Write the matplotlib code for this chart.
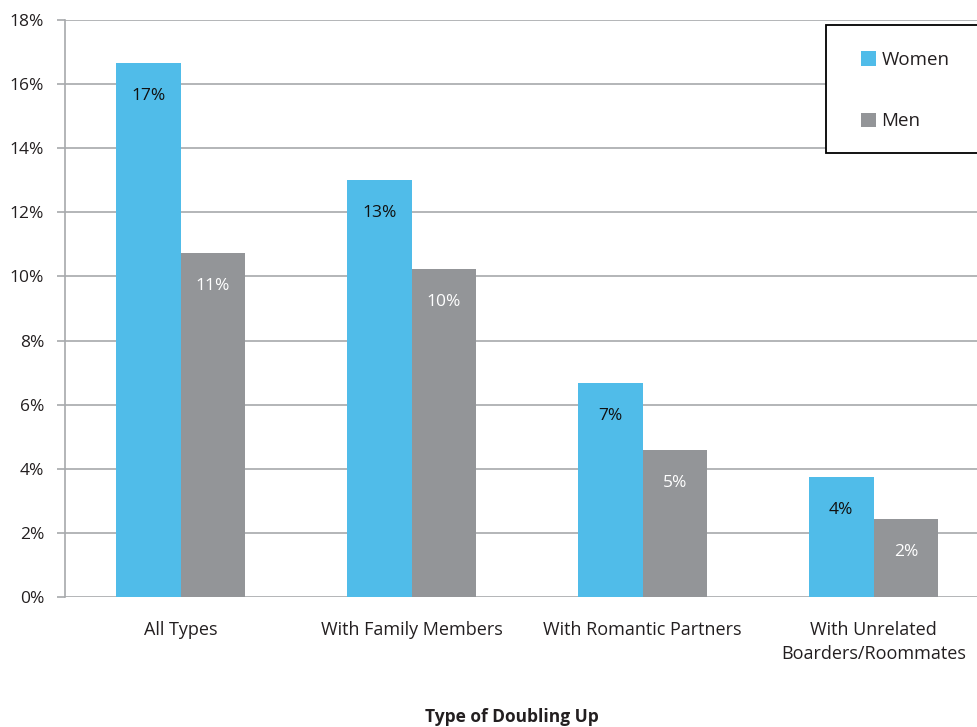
import numpy as np
import matplotlib.pyplot as plt
from matplotlib.ticker import FuncFormatter
from matplotlib.patches import Rectangle

plt.rcParams['font.family'] = ['Open Sans', 'DejaVu Sans']

categories = ['All Types', 'With Family Members', 'With Romantic Partners',
              'With Unrelated\nBoarders/Roommates']
women = [16.67, 13.01, 6.68, 3.74]
men = [10.73, 10.23, 4.59, 2.43]

women_color = '#50bce9'
men_color = '#939598'
grid_color = '#a7a9ac'
text_color = '#231f20'

W, H = 977, 727
fig = plt.figure(figsize=(W / 100, H / 100), dpi=100)
# plot area runs past the right edge of the figure
ax = fig.add_axes([65 / W, 130 / H, 924 / W, 577 / H])

x = np.arange(len(categories))
w = 0.28
b1 = ax.bar(x - w / 2, women, w, color=women_color, label='Women', zorder=3)
b2 = ax.bar(x + w / 2, men, w, color=men_color, label='Men', zorder=3)

for rect, v in zip(b1, women):
    ax.text(rect.get_x() + rect.get_width() / 2, v - 1.03, f'{v:.0f}%',
            ha='center', va='center', fontsize=12.5, color='#111111', zorder=4)
for rect, v in zip(b2, men):
    ax.text(rect.get_x() + rect.get_width() / 2, v - 1.03, f'{v:.0f}%',
            ha='center', va='center', fontsize=12.5, color='white', zorder=4)

ax.set_xlim(-0.5, 3.5)
ax.set_ylim(0, 18)
ax.set_yticks(np.arange(0, 19, 2))
ax.yaxis.set_major_formatter(FuncFormatter(lambda v, p: f'{v:.0f}%'))
ax.yaxis.grid(True, color=grid_color, linewidth=1.2, zorder=0)
ax.set_xticks(x)
ax.set_xticklabels(categories, fontsize=13, color=text_color, linespacing=1.45)
ax.tick_params(axis='x', length=0, pad=17)
ax.tick_params(axis='y', length=6, width=1.2, color=grid_color, labelsize=12.5,
               labelcolor=text_color, pad=9)
for s in ['top', 'right', 'bottom']:
    ax.spines[s].set_visible(False)
ax.spines['left'].set_color(grid_color)
ax.spines['left'].set_linewidth(1.2)

fig.text(0.524, 1 - 717 / H, 'Type of Doubling Up', ha='center', va='center',
         fontsize=12.5, fontweight='bold', color=text_color)

# legend box, cut off by the right edge
fig.patches.append(Rectangle((826 / W, 1 - 153 / H), 200 / W, 128 / H,
                             transform=fig.transFigure, fill=True,
                             facecolor='white', edgecolor='black',
                             linewidth=1.3, zorder=5))
leg = fig.legend(loc='upper left', bbox_to_anchor=(861 / W, 1 - 51 / H),
                 fontsize=13.5, frameon=False, handlelength=0.78,
                 handleheight=0.78, handletextpad=0.3, labelspacing=2.3,
                 borderpad=0, borderaxespad=0)
leg.set_zorder(6)
for t in leg.get_texts():
    t.set_color(text_color)

fig.savefig('out.png', dpi=100)
